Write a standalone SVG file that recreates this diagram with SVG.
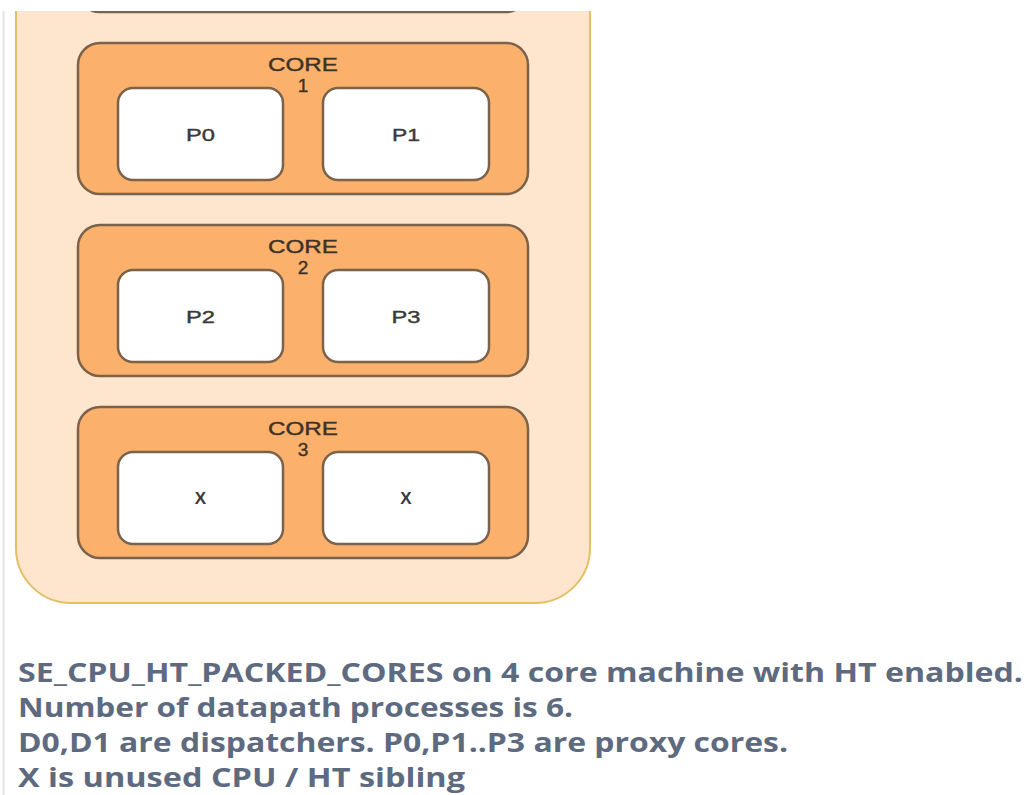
<svg xmlns="http://www.w3.org/2000/svg" width="1033" height="795" viewBox="0 0 1033 795">
<style>
.outer{fill:#fee5cd;stroke:#e3bf66;stroke-width:2}
.core{fill:#fbb16b;stroke:#7b624b;stroke-width:2.5}
.cpu{fill:#ffffff;stroke:#7b624b;stroke-width:2.5}
.lbl{font-family:"Liberation Sans",Arial,sans-serif;font-size:19px;fill:#3d3228;stroke:#3d3228;stroke-width:0.4;text-anchor:middle}
.plbl{font-family:"Liberation Sans",Arial,sans-serif;font-size:17px;fill:#3a3a3a;stroke:#3a3a3a;stroke-width:0.4;text-anchor:middle}
.xlbl{font-family:"Liberation Sans",Arial,sans-serif;font-size:17px;font-weight:700;fill:#3a3a3a;text-anchor:middle}
.note{font-family:"Open Sans","DejaVu Sans",sans-serif;font-size:27px;font-weight:700;fill:#5e6a7f}
</style>
<rect x="0" y="0" width="1033" height="795" fill="#ffffff"/>
<line x1="3.5" y1="11" x2="3.5" y2="795" stroke="#e4e4e4" stroke-width="2"/>
<g id="machine">
<rect class="outer" x="16" y="-120" width="574" height="723" rx="55" ry="55"/>
</g>
<g id="core0">
<rect class="core" x="78" y="-139" width="450" height="151" rx="22" ry="22"/>
</g>
<g id="core1">
<rect class="core" x="78" y="43" width="450" height="151" rx="22" ry="22"/>
<text class="lbl" x="303" y="71" textLength="70" lengthAdjust="spacingAndGlyphs">CORE</text>
<text class="lbl" x="303" y="92">1</text>
</g>
<g id="p0">
<rect class="cpu" x="118" y="88" width="165" height="92" rx="15" ry="15"/>
<text class="plbl" x="200.5" y="141" textLength="29" lengthAdjust="spacingAndGlyphs">P0</text>
</g>
<g id="p1">
<rect class="cpu" x="323" y="88" width="166" height="92" rx="15" ry="15"/>
<text class="plbl" x="406" y="141" textLength="28" lengthAdjust="spacingAndGlyphs">P1</text>
</g>
<g id="core2">
<rect class="core" x="78" y="225" width="450" height="151" rx="22" ry="22"/>
<text class="lbl" x="303" y="253" textLength="70" lengthAdjust="spacingAndGlyphs">CORE</text>
<text class="lbl" x="303" y="274">2</text>
</g>
<g id="p2">
<rect class="cpu" x="118" y="270" width="165" height="92" rx="15" ry="15"/>
<text class="plbl" x="200.5" y="323" textLength="29" lengthAdjust="spacingAndGlyphs">P2</text>
</g>
<g id="p3">
<rect class="cpu" x="323" y="270" width="166" height="92" rx="15" ry="15"/>
<text class="plbl" x="406" y="323" textLength="29" lengthAdjust="spacingAndGlyphs">P3</text>
</g>
<g id="core3">
<rect class="core" x="78" y="407" width="450" height="151" rx="22" ry="22"/>
<text class="lbl" x="303" y="435" textLength="70" lengthAdjust="spacingAndGlyphs">CORE</text>
<text class="lbl" x="303" y="456">3</text>
</g>
<g id="x0">
<rect class="cpu" x="118" y="452" width="165" height="92" rx="15" ry="15"/>
<text class="xlbl" x="200.5" y="504">X</text>
</g>
<g id="x1">
<rect class="cpu" x="323" y="452" width="166" height="92" rx="15" ry="15"/>
<text class="xlbl" x="406" y="504">X</text>
</g>
<rect x="0" y="0" width="1033" height="11" fill="#ffffff"/>
<g id="connectors"></g>
<g id="notes">
<text class="note" x="18" y="682" textLength="1005" lengthAdjust="spacingAndGlyphs">SE_CPU_HT_PACKED_CORES on 4 core machine with HT enabled.</text>
<text class="note" x="18" y="717" textLength="555" lengthAdjust="spacingAndGlyphs">Number of datapath processes is 6.</text>
<text class="note" x="18" y="752" textLength="770" lengthAdjust="spacingAndGlyphs">D0,D1 are dispatchers. P0,P1..P3 are proxy cores.</text>
<text class="note" x="18" y="787" textLength="447" lengthAdjust="spacingAndGlyphs">X is unused CPU / HT sibling</text>
</g>
</svg>
